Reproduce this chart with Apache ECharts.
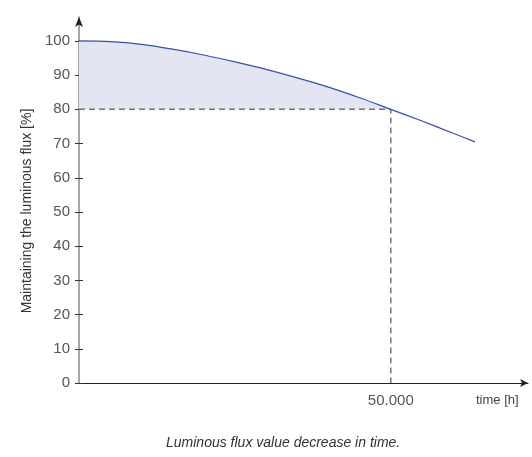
<!DOCTYPE html>
<html><head><meta charset="utf-8">
<script src="https://cdn.jsdelivr.net/npm/echarts@6/dist/echarts.min.js"></script>
<style>html,body{margin:0;padding:0;background:#fff}#c{width:532px;height:457px}</style>
</head><body><div id="c"></div>
<script>
// Data
const timeHours = [0, 5000, 10000, 15000, 20000, 25000, 30000, 35000, 40000, 45000, 50000, 55000, 60000, 63500];
const fluxPercent = [100, 99.8, 99.0, 97.6, 95.9, 93.9, 91.7, 89.2, 86.5, 83.4, 80, 76.6, 73.0, 70.5];
const thresholdTime = 50000;
const thresholdFlux = 80;
const yTicks = [0, 10, 20, 30, 40, 50, 60, 70, 80, 90, 100];
const xTicks = [50000];
const xTickLabels = ['50.000'];
const yAxisName = 'Maintaining the luminous flux [%]';
const xAxisName = 'time [h]';
const caption = 'Luminous flux value decrease in time.';

const curve = timeHours.map((t, i) => [t, fluxPercent[i]]);
const shaded = curve.filter(p => p[0] <= thresholdTime);
const guide = [[0, thresholdFlux], [thresholdTime, thresholdFlux], [thresholdTime, 0]];

const font = 'Liberation Sans, Arial, sans-serif';
const chart = echarts.init(document.getElementById('c'), null, {renderer: 'canvas'});
chart.setOption({
  animation: false,
  title: {
    text: caption, left: 161, top: 431,
    textStyle: {fontFamily: font, fontSize: 14, fontStyle: 'italic', fontWeight: 'normal', color: '#333'}
  },
  grid: {left: 79, right: 4, top: 17, bottom: 74},
  xAxis: {
    type: 'value', min: 0, max: 72000,
    name: xAxisName, nameLocation: 'end', nameGap: -52,
    nameTextStyle: {fontFamily: font, fontSize: 13, color: '#444', verticalAlign: 'top', padding: [11, 0, 0, 0]},
    axisLine: {show: true, lineStyle: {color: '#222', width: 1}, symbol: ['none', 'arrow'], symbolSize: [6, 8]},
    axisTick: {show: false},
    splitLine: {show: false},
    axisLabel: {
      customValues: xTicks, fontFamily: font, fontSize: 15, color: '#555', margin: 10,
      formatter: v => xTickLabels[xTicks.indexOf(v)] || ''
    }
  },
  yAxis: [{
    type: 'value', min: 0, max: 107,
    name: yAxisName, nameLocation: 'middle', nameGap: 45,
    nameTextStyle: {fontFamily: font, fontSize: 14, color: '#333', padding: [0, 22, 0, 0]},
    axisLine: {show: true, lineStyle: {color: '#888', width: 1.5}},
    axisTick: {show: true, customValues: yTicks, length: 4, lineStyle: {color: '#333'}},
    splitLine: {show: false},
    axisLabel: {customValues: yTicks, fontFamily: font, fontSize: 15, color: '#555', margin: 9}
  }, {
    type: 'value', min: 0, max: 107, position: 'left', offset: 0,
    axisLine: {show: true, lineStyle: {color: '#222', width: 0}, symbol: ['none', 'arrow'], symbolSize: [6, 10]},
    axisTick: {show: true, inside: true, customValues: yTicks, length: 4, lineStyle: {color: '#333'}},
    axisLabel: {show: false}, splitLine: {show: false}
  }],
  series: [
    {type: 'custom', data: shaded, silent: true, z: 1,
     renderItem: function (params, api) {
       if (params.dataIndex !== 0) return null;
       const pts = shaded.map(p => api.coord(p));
       pts.push(api.coord([thresholdTime, thresholdFlux]));
       pts.push(api.coord([0, thresholdFlux]));
       return {type: 'polygon', shape: {points: pts}, style: {fill: '#e3e5f2', stroke: null}};
     }},
    {type: 'line', data: guide, symbol: 'none', z: 3,
     lineStyle: {color: '#777', width: 1.5, type: [6, 4]}},
    {type: 'line', data: curve, symbol: 'none', smooth: 0.3, z: 4,
     lineStyle: {color: '#3a4fae', width: 1.2}}
  ]
});
</script></body></html>
